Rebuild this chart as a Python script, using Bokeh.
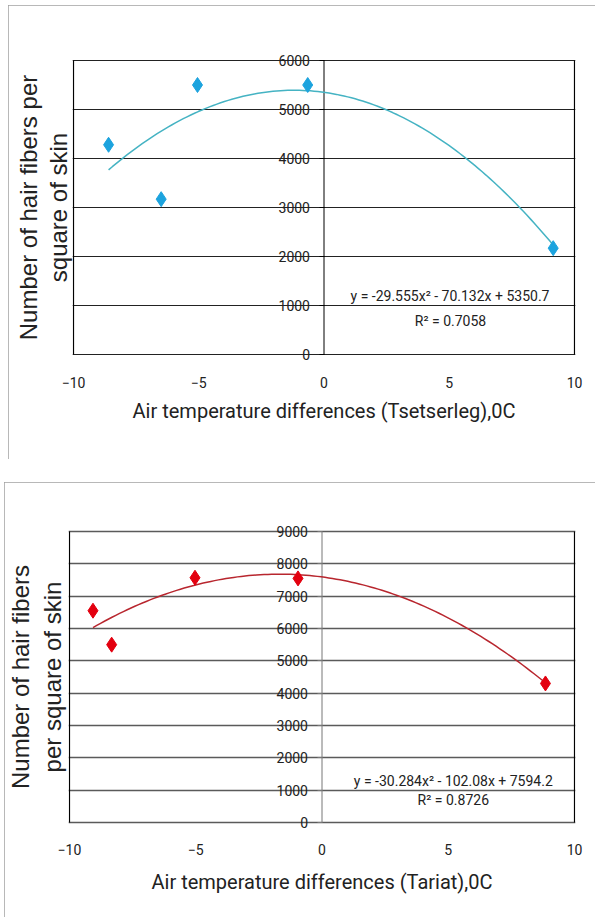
import numpy as np
from bokeh.plotting import figure
from bokeh.models import Title, Label, LabelSet, FixedTicker, Range1d, ColumnDataSource
from bokeh.core.properties import value
from bokeh.layouts import column
from bokeh.embed import file_html
from bokeh.resources import INLINE

# ---- data: Tsetserleg ----
ts_x = [-8.6, -6.5, -5.05, -0.65, 9.15]
ts_y = [4280, 3170, 5500, 5500, 2170]
ts_coef = [-29.555, -70.132, 5350.7]
ts_eq = "y = -29.555x\u00b2 - 70.132x + 5350.7"
ts_r2 = "R\u00b2 = 0.7058"
ts_yticks = [0, 1000, 2000, 3000, 4000, 5000, 6000]
ts_xtitle = "Air temperature differences (Tsetserleg),0C"
ts_ytitle = ["Number of hair fibers per", "square of skin"]

# ---- data: Tariat ----
ta_x = [-9.07, -8.33, -5.03, -0.95, 8.85]
ta_y = [6550, 5500, 7570, 7550, 4300]
ta_coef = [-30.284, -102.08, 7594.2]
ta_eq = "y = -30.284x\u00b2 - 102.08x + 7594.2"
ta_r2 = "R\u00b2 = 0.8726"
ta_yticks = [0, 1000, 2000, 3000, 4000, 5000, 6000, 7000, 8000, 9000]
ta_xtitle = "Air temperature differences (Tariat),0C"
ta_ytitle = ["Number of hair fibers", "per square of skin"]

xticks = [-10, -5, 0, 5, 10]

FONT = "Roboto"
PADX, PADY = 1, 10   # pixels of frame beyond the drawn box (so edge labels are not clipped)


def panel(xs, ys, coef, eq, r2, yticks, xtitle, ytitle, mcol, lcol, gcol, gwidth, acol,
          pos, box, top_margin, eqpos, r2pos, tick_standoff, xlab_standoff, title_standoff):
    width, height = pos[2] - pos[0], pos[3] - pos[1]
    bw, bh = box[2] - box[0], box[3] - box[1]
    x0, x1 = xticks[0], xticks[-1]
    y0, y1 = yticks[0], yticks[-1]
    dx = PADX * (x1 - x0) / bw
    dy = PADY * (y1 - y0) / bh
    p = figure(width=width, height=height, output_backend="svg", toolbar_location=None,
               x_range=Range1d(x0 - dx, x1 + dx), y_range=Range1d(y0 - dy, y1 + dy),
               min_border_left=box[0] - pos[0] - PADX,
               min_border_top=box[1] - pos[1] - PADY,
               min_border_right=pos[2] - box[2] - PADX,
               min_border_bottom=pos[3] - box[3] - PADY,
               margin=(top_margin, 0, 0, pos[0]))
    p.outline_line_color = None
    p.background_fill_color = "white"
    p.border_fill_color = "white"
    p.xgrid.visible = False
    p.ygrid.ticker = FixedTicker(ticks=yticks)
    p.ygrid.grid_line_color = gcol
    p.ygrid.grid_line_width = gwidth

    # box sides at x = -10 and x = 10, and the value axis line at x = 0
    p.segment(x0=[x0, x1], y0=[y0, y0], x1=[x0, x1], y1=[y1, y1],
              line_color="black", line_width=1.2)
    p.segment(x0=[0], y0=[y0], x1=[0], y1=[y1], line_color=acol, line_width=1)

    # y axis ticks at x = 0
    ya = p.yaxis[0]
    ya.ticker = FixedTicker(ticks=yticks)
    ya.fixed_location = 0
    ya.axis_line_color = None
    ya.major_tick_line_color = acol
    ya.major_tick_out = 5
    ya.major_tick_in = 0
    ya.minor_tick_line_color = None
    ya.major_label_text_color = None
    src = ColumnDataSource(dict(x=[0] * len(yticks), y=yticks,
                                t=[str(v) for v in yticks]))
    p.add_layout(LabelSet(x="x", y="y", text="t", source=src, x_offset=-14,
                          text_align="right", text_baseline="middle",
                          text_font=value(FONT), text_font_size=value("14px"),
                          text_color="#222"))

    xa = p.xaxis[0]
    xa.ticker = FixedTicker(ticks=xticks)
    xa.axis_line_color = None
    xa.major_tick_line_color = None
    xa.minor_tick_line_color = None
    xa.major_label_text_font = FONT
    xa.major_label_text_font_size = "14px"
    xa.major_label_text_color = "#222"
    xa.major_label_standoff = tick_standoff
    xa.axis_label = xtitle
    xa.axis_label_text_font = FONT
    xa.axis_label_text_font_size = "20px"
    xa.axis_label_text_font_style = "normal"
    xa.axis_label_text_color = "#222"
    xa.axis_label_standoff = xlab_standoff

    # y title, two lines (first added sits closest to the frame)
    for i, line in enumerate(reversed(ytitle)):
        p.add_layout(Title(text=line, align="center", text_font="Liberation Sans",
                           text_font_size="24px", text_font_style="normal",
                           text_color="#222", standoff=title_standoff if i == 0 else 0,
                           offset=0), "left")

    # trendline from the displayed equation
    cx = np.linspace(min(xs), max(xs), 120)
    cy = np.polyval(coef, cx)
    p.line(cx, cy, line_color=lcol, line_width=1.5)
    p.scatter(xs, ys, marker="diamond", size=15, fill_color=mcol, line_color=mcol)

    p.add_layout(Label(x=eqpos[0], y=eqpos[1], text=eq, text_align="center",
                       text_baseline="middle", text_font=FONT, text_font_size="14px",
                       text_color="#222"))
    p.add_layout(Label(x=r2pos[0], y=r2pos[1], text=r2, text_align="center",
                       text_baseline="middle", text_font=FONT, text_font_size="14px",
                       text_color="#222"))
    p.styles = {"outline": "2px solid #a0a0a0", "outline-offset": "-2px"}
    return p


p1 = panel(ts_x, ts_y, ts_coef, ts_eq, ts_r2, ts_yticks, ts_xtitle, ts_ytitle,
           "#1CA3DE", "#45B3C3", "#222222", 1.2, "black",
           (8, 5, 595, 459), (72, 60, 574, 354), 5, (5.03, 1190), (5.05, 676), 6, 8, 2)
p2 = panel(ta_x, ta_y, ta_coef, ta_eq, ta_r2, ta_yticks, ta_xtitle, ta_ytitle,
           "#E3000F", "#B8262E", "#5a5a5a", 1.6, "#777777",
           (4, 482, 595, 917), (67, 531, 575, 822), 23, (5.2, 1290), (5.2, 693), 5, 12, 6)

layout = column(p1, p2, spacing=0)

open("out.html", "w").write(file_html(layout, INLINE))
